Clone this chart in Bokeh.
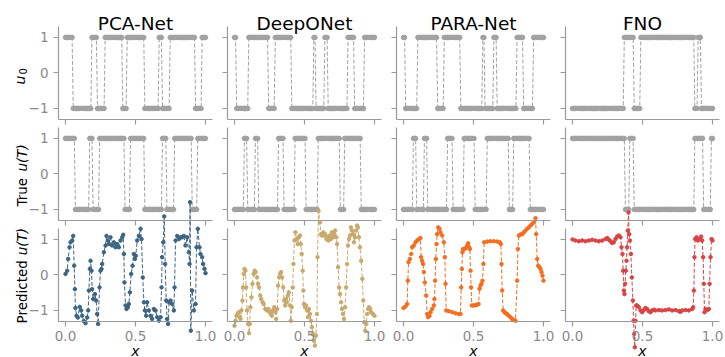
import math
import numpy as np
from bokeh.plotting import figure
from bokeh.models import Range1d, LinearAxis, FixedTicker, Label
from bokeh.embed import file_html
from bokeh.resources import INLINE

# ---------------- data ----------------
models = ["PCA-Net", "DeepONet", "PARA-Net", "FNO"]
x_ticks = [0, 0.5, 1]
x_tick_labels = ["0.0", "0.5", "1.0"]
y_ticks = [-1, 0, 1]
y_tick_labels = ["\u22121", "0", "1"]

N_GRID = 128  # sampling points of the step functions

# step functions: value at x=0 and x-locations where the sign flips
pca_u0_start = 1
pca_u0_switch = [0.055, 0.183, 0.226, 0.279, 0.405, 0.436, 0.564, 0.667, 0.690, 0.743, 0.924, 0.969]
pca_true_start = 1
pca_true_switch = [0.064, 0.167, 0.190, 0.238, 0.421, 0.464, 0.560, 0.686, 0.721, 0.774, 0.898, 0.940]

deep_u0_start = 1
deep_u0_switch = [0.008, 0.095, 0.243, 0.291, 0.409, 0.563, 0.582, 0.641, 0.662, 0.811, 0.851, 0.929]
deep_true_start = -1
deep_true_switch = [0.066, 0.090, 0.149, 0.172, 0.314, 0.350, 0.426, 0.511, 0.593, 0.752, 0.787, 0.900]

para_u0_start = deep_u0_start
para_u0_switch = deep_u0_switch
para_true_start = deep_true_start
para_true_switch = deep_true_switch

fno_u0_start = -1
fno_u0_switch = [0.367, 0.438, 0.486, 0.867, 0.890, 0.920]
fno_true_start = 1
fno_true_switch = [0.371, 0.402, 0.438, 0.867, 0.933, 0.986]

# predicted u(T)
pca_pred_x = [0.000, 0.012, 0.019, 0.029, 0.036, 0.048, 0.055, 0.062, 0.067, 0.071, 0.079, 0.088, 0.102, 0.112,
              0.119, 0.131, 0.143, 0.155, 0.162, 0.167, 0.174, 0.179, 0.186, 0.190, 0.198, 0.210, 0.219, 0.226,
              0.233, 0.243, 0.250, 0.257, 0.262, 0.274, 0.286, 0.293, 0.302, 0.310, 0.321, 0.333, 0.345, 0.357,
              0.369, 0.381, 0.393, 0.405, 0.412, 0.417, 0.421, 0.429, 0.436, 0.445, 0.452, 0.460, 0.469, 0.479,
              0.488, 0.495, 0.502, 0.512, 0.524, 0.536, 0.543, 0.552, 0.560, 0.567, 0.576, 0.583, 0.595, 0.607,
              0.619, 0.631, 0.643, 0.655, 0.667, 0.679, 0.686, 0.690, 0.698, 0.705, 0.712, 0.719, 0.726, 0.733,
              0.740, 0.750, 0.762, 0.774, 0.779, 0.786, 0.798, 0.810, 0.821, 0.833, 0.845, 0.857, 0.869, 0.881,
              0.886, 0.890, 0.895, 0.905, 0.917, 0.929, 0.936, 0.945, 0.957, 0.964, 0.976, 0.983, 0.993, 1.000]
pca_pred_y = [0.03, 0.12, 0.45, 0.78, 0.92, 0.97, 1.10, 0.26, -0.40, -0.93, -1.15, -1.20, -0.90, -1.00,
              -1.15, -1.30, -1.36, -1.20, -1.00, -0.44, 0.17, 0.40, 0.12, -0.40, -0.68, -0.54, -0.72, -1.10,
              -1.38, -0.35, 0.12, 0.17, 0.31, 0.64, 0.83, 1.10, 0.97, 0.87, 1.06, 0.83, 0.92, 0.78,
              0.87, 0.78, 0.97, 1.06, 1.13, 0.59, -0.21, -0.86, -0.96, -0.91, -0.82, -0.49, 0.03, 0.26,
              0.59, 0.45, 0.54, 0.97, 1.10, 1.30, 1.01, -0.07, -0.77, -1.00, -1.15, -0.77, -1.00, -1.15,
              -1.24, -0.96, -1.00, -1.19, -1.29, -1.19, -0.35, 0.50, 0.92, 1.65, 0.31, -0.72, -1.24, -1.38,
              -0.77, -0.72, -0.82, -1.00, -0.35, 0.97, 1.10, 1.01, 1.06, 1.06, 1.10, 0.83, 1.06, 0.64,
              0.31, 2.05, -1.57, -0.44, -1.00, -0.82, 0.78, 1.30, 0.78, 0.59, 0.50, 0.31, 0.17, 0.05]

deep_pred_x = [0.000, 0.007, 0.014, 0.024, 0.031, 0.038, 0.043, 0.050, 0.057, 0.061, 0.066, 0.071, 0.078, 0.083,
               0.090, 0.097, 0.104, 0.109, 0.113, 0.121, 0.128, 0.137, 0.144, 0.151, 0.161, 0.168, 0.175, 0.184,
               0.191, 0.201, 0.208, 0.220, 0.232, 0.243, 0.251, 0.260, 0.267, 0.274, 0.284, 0.291, 0.298, 0.305,
               0.312, 0.319, 0.326, 0.333, 0.340, 0.348, 0.355, 0.362, 0.366, 0.374, 0.381, 0.388, 0.397, 0.402,
               0.409, 0.416, 0.421, 0.428, 0.435, 0.444, 0.452, 0.459, 0.468, 0.473, 0.480, 0.487, 0.492, 0.496,
               0.504, 0.511, 0.518, 0.525, 0.532, 0.539, 0.546, 0.553, 0.560, 0.567, 0.574, 0.582, 0.589, 0.593,
               0.600, 0.610, 0.617, 0.624, 0.634, 0.641, 0.648, 0.657, 0.664, 0.671, 0.681, 0.688, 0.695, 0.704,
               0.712, 0.719, 0.728, 0.733, 0.740, 0.747, 0.754, 0.761, 0.768, 0.775, 0.783, 0.790, 0.797, 0.804,
               0.811, 0.818, 0.825, 0.832, 0.839, 0.846, 0.853, 0.861, 0.868, 0.875, 0.882, 0.889, 0.896, 0.905,
               0.913, 0.920, 0.927, 0.934, 0.941, 0.948, 0.955, 0.962, 0.969, 0.976, 0.988, 1.000]
deep_pred_y = [-1.43, -1.29, -1.15, -1.08, -1.05, -1.19, -1.24, -1.00, -0.72, -0.35, 0.03, 0.17, 0.12, -0.35,
               -1.00, -1.38, -1.64, -1.38, -0.91, -0.63, -0.25, 0.03, 0.12, 0.08, -0.07, -0.25, -0.35, -0.58,
               -0.68, -0.77, -0.82, -0.96, -1.00, -0.96, -1.05, -1.10, -1.15, -1.00, -0.91, -1.05, -1.24, -0.96,
               -0.30, -0.07, 0.03, 0.08, -0.07, -0.35, -0.72, -0.86, -0.68, -0.77, -0.58, -0.49, -0.86, -1.29,
               -0.91, -0.35, 0.31, 0.97, 1.20, 1.01, 0.87, 1.06, 1.11, 0.87, 0.59, 0.12, -0.44, -0.82,
               -0.91, -0.86, -1.00, -1.19, -0.96, -1.10, -1.29, -1.47, -1.66, -1.85, -1.99, -1.71, -1.10, 0.50,
               1.80, 1.48, 1.15, 1.11, 1.20, 1.11, 1.15, 1.01, 1.06, 0.97, 1.11, 1.01, 1.20, 1.06,
               1.15, 1.25, 1.06, 0.87, 0.22, -0.35, -0.54, -0.77, -0.96, -1.10, -1.24, -0.91, -0.35, 0.31,
               0.83, 1.01, 1.11, 1.34, 1.25, 1.15, 0.92, 1.06, 1.25, 1.39, 1.34, 1.06, 0.78, 0.40,
               -0.11, -0.72, -1.33, -1.57, -1.38, -1.10, -0.96, -0.91, -0.96, -1.05, -1.10, -1.15]

para_pred_x = [0.000, 0.014, 0.026, 0.031, 0.036, 0.045, 0.055, 0.062, 0.074, 0.086, 0.098, 0.110, 0.121, 0.126,
               0.133, 0.140, 0.145, 0.152, 0.162, 0.169, 0.176, 0.186, 0.193, 0.205, 0.217, 0.221, 0.226, 0.231,
               0.236, 0.240, 0.248, 0.257, 0.264, 0.276, 0.288, 0.295, 0.300, 0.305, 0.324, 0.348, 0.371, 0.395,
               0.407, 0.412, 0.417, 0.421, 0.426, 0.436, 0.445, 0.455, 0.462, 0.469, 0.474, 0.479, 0.483, 0.488,
               0.502, 0.514, 0.526, 0.536, 0.543, 0.550, 0.557, 0.564, 0.571, 0.576, 0.598, 0.621, 0.645, 0.669,
               0.688, 0.695, 0.700, 0.705, 0.712, 0.721, 0.731, 0.740, 0.752, 0.764, 0.776, 0.788, 0.800, 0.812,
               0.817, 0.824, 0.836, 0.848, 0.860, 0.871, 0.883, 0.895, 0.907, 0.919, 0.931, 0.943, 0.948, 0.955,
               0.962, 0.971, 0.979, 0.986, 0.993, 1.000]
para_pred_y = [-0.93, -0.89, -0.82, -0.16, 0.36, 0.45, 0.59, 0.78, 0.83, 0.92, 0.97, 1.01, 1.04, 0.50,
               0.40, 0.31, 0.08, -0.21, -0.58, -1.10, -1.19, -1.15, -1.05, -0.96, -0.86, -0.68, -0.16, 0.45,
               0.87, 1.15, 1.34, 1.30, 1.20, 1.11, 0.92, 0.50, -0.25, -1.00, -1.02, -1.05, -1.08, -1.10,
               -1.10, -0.35, 0.17, 0.64, 0.73, 0.73, 0.76, 0.83, 0.89, 0.78, 0.73, 0.12, -0.35, -0.86,
               -0.86, -0.85, -0.84, -0.82, -0.39, -0.30, -0.25, -0.16, 0.31, 0.92, 0.94, 0.95, 0.95, 0.94,
               0.92, 0.87, 0.31, -0.44, -1.00, -1.05, -1.08, -1.10, -1.15, -1.19, -1.24, -1.27, -1.29, -0.16,
               0.73, 1.11, 1.14, 1.15, 1.20, 1.25, 1.30, 1.34, 1.39, 1.44, 1.48, 1.60, 1.15, 0.45,
               0.26, 0.22, 0.17, 0.08, -0.02, -0.16]

fno_pred_x = [0.000, 0.021, 0.045, 0.069, 0.093, 0.117, 0.140, 0.164, 0.188, 0.212, 0.236, 0.248, 0.260, 0.271,
              0.283, 0.295, 0.307, 0.319, 0.331, 0.343, 0.350, 0.357, 0.362, 0.367, 0.371, 0.376, 0.381, 0.386,
              0.390, 0.395, 0.400, 0.405, 0.410, 0.417, 0.424, 0.431, 0.436, 0.440, 0.445, 0.450, 0.455, 0.462,
              0.474, 0.486, 0.498, 0.510, 0.521, 0.533, 0.545, 0.557, 0.569, 0.581, 0.593, 0.617, 0.640, 0.664,
              0.688, 0.712, 0.736, 0.760, 0.771, 0.783, 0.807, 0.831, 0.855, 0.862, 0.867, 0.871, 0.876, 0.886,
              0.895, 0.907, 0.919, 0.926, 0.933, 0.938, 0.943, 0.950, 0.962, 0.974, 0.979, 0.986, 0.993, 1.000]
fno_pred_y = [1.00, 0.97, 0.95, 0.97, 0.95, 0.97, 0.99, 0.97, 0.95, 0.97, 1.01, 1.04, 0.99, 0.95,
              0.90, 0.92, 1.01, 1.08, 1.11, 1.06, 0.78, 0.59, 0.12, -0.44, -0.54, -0.25, 0.12, 0.40,
              0.78, 1.25, 1.76, 1.15, 0.97, 0.59, -0.07, -0.72, -1.29, -1.66, -2.04, -1.29, -0.86, -0.86,
              -0.91, -1.00, -1.05, -0.99, -0.93, -0.96, -1.02, -1.05, -1.00, -0.98, -1.00, -0.99, -1.00, -0.99,
              -0.97, -1.00, -0.99, -1.02, -1.04, -1.00, -0.99, -1.00, -0.96, -0.91, -0.44, 0.50, 1.01, 1.06,
              0.97, 1.01, 1.08, 0.97, 0.50, -0.25, -1.05, -0.96, -0.99, -0.96, -0.25, 0.50, 1.01, 0.97]

series_colors = ["#3c6483", "#c9a96c", "#f56d1e", "#d64444"]
grey_color = "#a2a2a2"

# ---------------- layout / style ----------------
W, H = 725, 357
COL_LEFT = [58, 227, 396, 565]   # pixel of x = -0.05
COL_W = 154
ROW_TOP = [26.3, 127.3, 228.3]   # pixel of y = 1.3
ROW_H = 92.3
XLIM = (-0.05, 1.05)
YLIM = (-1.3, 1.3)
SX = COL_W / (XLIM[1] - XLIM[0])
SY = ROW_H / (YLIM[1] - YLIM[0])
SPINE = "#9a9a9a"
TICK_TXT = "#8a8a8a"
FONT = "DejaVu Sans"
LABEL_PX = 13.5
# DejaVu Sans advance widths (em) of the upright label words followed by a space
WORD_EM = {"True": 2.589, "Predicted": 5.052}


def xd(j, px):
    return XLIM[0] + (px - COL_LEFT[j]) / SX


def yd(i, py):
    return YLIM[1] - (py - ROW_TOP[i]) / SY


x_grid = np.linspace(0, 1, N_GRID)


def steps(start, switch):
    n = np.searchsorted(np.array(switch), x_grid, side="right")
    return start * (-1.0) ** n


u0_data = [steps(pca_u0_start, pca_u0_switch), steps(deep_u0_start, deep_u0_switch),
           steps(para_u0_start, para_u0_switch), steps(fno_u0_start, fno_u0_switch)]
true_data = [steps(pca_true_start, pca_true_switch), steps(deep_true_start, deep_true_switch),
             steps(para_true_start, para_true_switch), steps(fno_true_start, fno_true_switch)]
pred_data = [(pca_pred_x, pca_pred_y), (deep_pred_x, deep_pred_y),
             (para_pred_x, para_pred_y), (fno_pred_x, fno_pred_y)]

p = figure(width=W, height=H, x_range=Range1d(0, W), y_range=Range1d(0, H),
           x_axis_type=None, y_axis_type=None, toolbar_location=None,
           output_backend="svg", min_border=0, outline_line_color=None, title=None)
p.extra_x_ranges = {f"c{j}": Range1d(xd(j, 0), xd(j, W)) for j in range(4)}
p.extra_y_ranges = {f"r{i}": Range1d(yd(i, H), yd(i, 0)) for i in range(3)}

for i in range(3):
    for j in range(4):
        cx, ry = f"c{j}", f"r{i}"
        xa = LinearAxis(x_range_name=cx, y_range_name=ry, fixed_location=YLIM[0], bounds=XLIM,
                        ticker=FixedTicker(ticks=x_ticks),
                        major_label_overrides={t: l for t, l in zip(x_ticks, x_tick_labels)},
                        axis_line_color=SPINE, axis_line_width=1.2,
                        major_tick_line_color=SPINE, major_tick_line_width=1.2,
                        major_tick_in=0, major_tick_out=5, minor_tick_line_color=None,
                        major_label_text_font=FONT, major_label_text_font_size="13.5px",
                        major_label_text_color=TICK_TXT if i == 2 else None,
                        major_label_standoff=5)
        p.add_layout(xa, "below")
        ya = LinearAxis(x_range_name=cx, y_range_name=ry, fixed_location=XLIM[0], bounds=YLIM,
                        ticker=FixedTicker(ticks=y_ticks),
                        major_label_overrides={t: l for t, l in zip(y_ticks, y_tick_labels)},
                        axis_line_color=SPINE, axis_line_width=1.2,
                        major_tick_line_color=SPINE, major_tick_line_width=1.2,
                        major_tick_in=0, major_tick_out=5, minor_tick_line_color=None,
                        major_label_text_font=FONT, major_label_text_font_size="13.5px",
                        major_label_text_color=TICK_TXT if j == 0 else None,
                        major_label_standoff=5)
        p.add_layout(ya, "left")

        if i < 2:
            u = u0_data[j] if i == 0 else true_data[j]
            p.line(x_grid, u, x_range_name=cx, y_range_name=ry, line_color=grey_color,
                   line_width=1, line_dash="4 2")
            p.scatter(x_grid, u, x_range_name=cx, y_range_name=ry, size=4.5,
                      fill_color=grey_color, line_color=grey_color)
        else:
            px_, py_ = pred_data[j]
            p.line(px_, py_, x_range_name=cx, y_range_name=ry, line_color=series_colors[j],
                   line_width=1, line_dash="4 2")
            p.scatter(px_, py_, x_range_name=cx, y_range_name=ry, size=3.5,
                      fill_color=series_colors[j], line_color=series_colors[j])

# column titles and x labels
for j, name in enumerate(models):
    p.add_layout(Label(x=0.5, y=yd(0, 23), x_range_name=f"c{j}", y_range_name="r0", text=name,
                       text_font=FONT, text_font_size="18.5px", text_align="center",
                       text_baseline="alphabetic", text_color="black"))
    p.add_layout(Label(x=0.5, y=yd(2, 350), x_range_name=f"c{j}", y_range_name="r2", text="x",
                       text_font=FONT, text_font_style="italic", text_font_size="14px",
                       text_align="center", text_baseline="alphabetic", text_color="black"))


# row labels (rotated, reading bottom to top)
def rlabel(i, px, py, text, style="normal", size=LABEL_PX):
    p.add_layout(Label(x=xd(0, px), y=yd(i, py), x_range_name="c0", y_range_name=f"r{i}",
                       text=text, angle=math.pi / 2, text_font=FONT, text_font_style=style,
                       text_font_size=f"{size}px", text_align="left", text_baseline="alphabetic",
                       text_color="black"))


rlabel(0, 19.5, 84, "u", "italic", 14)
rlabel(0, 22, 74, "0", "normal", 10)
for i, word, start in [(1, "True", 206), (2, "Predicted", 323)]:
    rlabel(i, 21, start, word)
    rlabel(i, 21, start - WORD_EM[word] * LABEL_PX, "u(T)", "italic")

open("out.html", "w").write(file_html(p, INLINE))
